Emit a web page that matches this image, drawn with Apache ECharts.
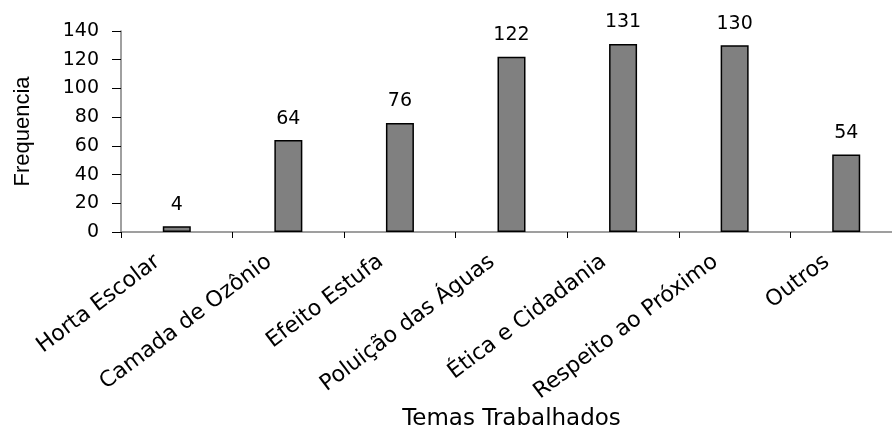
<!DOCTYPE html>
<html>
<head>
<meta charset="utf-8">
<script src="https://cdn.jsdelivr.net/npm/echarts@6/dist/echarts.min.js"></script>
<style>html,body{margin:0;padding:0;background:#fff}#c{width:892px;height:430px}</style>
</head>
<body>
<div id="c"></div>
<script>
var categories = ['Horta Escolar','Camada de Ozônio','Efeito Estufa','Poluição das Águas','Ética e Cidadania','Respeito ao Próximo','Outros'];
var values = [4, 64, 76, 122, 131, 130, 54];
var yMin = 0, yMax = 140, yStep = 20;
var xTitle = 'Temas Trabalhados';
var yTitle = 'Frequencia';

var chart = echarts.init(document.getElementById('c'), null, {renderer:'canvas'});
var font = 'DejaVu Sans';
chart.setOption({
  animation: false,
  backgroundColor: '#ffffff',
  grid: {left: 121, right: -10, top: 31, bottom: 198, containLabel: false, outerBoundsMode: 'none'},
  xAxis: {
    type: 'category',
    data: categories,
    name: xTitle,
    nameLocation: 'middle',
    nameGap: 176,
    nameTextStyle: {fontFamily: font, fontSize: 23, color: '#000'},
    axisLine: {lineStyle: {color: '#808080', width: 1.5}},
    axisTick: {show: true, length: 6, lineStyle: {color: '#000', width: 1}},
    axisLabel: {
      interval: 0, rotate: 37, margin: 13, padding: [0, 24, 0, 0],
      fontFamily: font, fontSize: 22, color: '#000'
    }
  },
  yAxis: {
    type: 'value',
    min: yMin, max: yMax, interval: yStep,
    name: yTitle,
    nameLocation: 'middle',
    nameGap: 87,
    nameTextStyle: {fontFamily: 'Liberation Sans', fontSize: 22, color: '#000'},
    axisLine: {show: true, lineStyle: {color: '#808080', width: 1.5}},
    axisTick: {show: true, length: 9, lineStyle: {color: '#000', width: 1}},
    splitLine: {show: false},
    axisLabel: {margin: 22, fontFamily: font, fontSize: 19, color: '#000'}
  },
  series: [{
    type: 'bar',
    data: values,
    barWidth: 28,
    itemStyle: {color: '#808080', borderColor: '#000', borderWidth: 1.5},
    label: {show: true, position: 'top', distance: 12, fontFamily: font, fontSize: 19, color: '#000'}
  }]
});
</script>
</body>
</html>
